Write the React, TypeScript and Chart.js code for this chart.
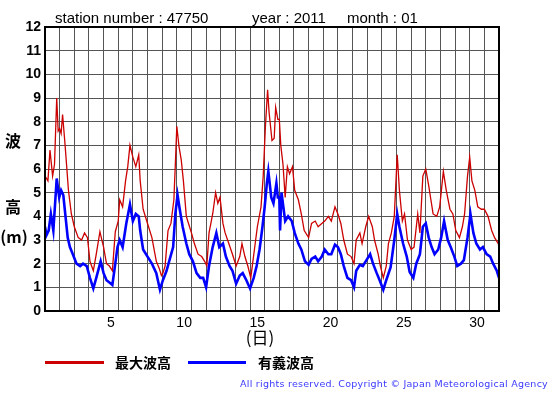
import React, { useEffect, useRef } from "react";
import { Chart, registerables } from "chart.js";

Chart.register(...registerables);

// Elapsed-day positions (day 1 00:00 = 1) and values (m)
const maxTimes = [
  0.0, 0.2, 0.34, 0.52, 0.65, 0.8, 0.9, 1.0, 1.1, 1.2, 1.36, 1.47, 1.6, 1.8, 2.0, 2.27, 2.5, 2.7, 2.9, 3.07,
  3.3, 3.5, 3.75, 4.0, 4.2, 4.4, 4.6, 4.8, 5.0, 5.1, 5.3, 5.5, 5.65, 5.8, 6.0, 6.2, 6.4, 6.5, 6.7, 7.0,
  7.3, 7.6, 7.8, 7.95, 8.05, 8.2, 8.4, 8.6, 8.8, 8.9, 9.0, 9.15, 9.3, 9.45, 9.65, 9.8, 10.0, 10.2, 10.45, 10.7,
  10.9, 11.05, 11.2, 11.45, 11.65, 11.8, 11.95, 12.15, 12.3, 12.55, 12.8, 13.05, 13.3, 13.45, 13.65, 13.85, 14.05, 14.3, 14.5, 14.75,
  14.9, 15.05, 15.2, 15.3, 15.5, 15.65, 15.75, 15.9, 16.0, 16.1, 16.25, 16.4, 16.55, 16.7, 16.9, 17.05, 17.3, 17.5, 17.7, 18.0,
  18.2, 18.45, 18.65, 18.9, 19.1, 19.35, 19.55, 19.8, 20.0, 20.2, 20.4, 20.65, 20.9, 21.1, 21.25, 21.5, 21.65, 21.9, 22.1, 22.35,
  22.5, 22.75, 22.9, 23.1, 23.3, 23.45, 23.65, 23.85, 24.05, 24.2, 24.4, 24.55, 24.75, 25.0, 25.2, 25.45, 25.6, 25.8, 26.0, 26.2,
  26.35, 26.5, 26.75, 26.95, 27.2, 27.4, 27.65, 27.85, 28.05, 28.3, 28.5, 28.65, 28.85, 29.0, 29.15, 29.35, 29.55, 29.8, 30.0, 30.25,
  30.5, 30.7, 30.95, 31.0,
].map((d) => d + 1);
const maxValues = [
  5.7, 5.5, 6.8, 5.7, 6.2, 9.0, 7.6, 7.7, 7.5, 8.3, 7.1, 6.2, 5.1, 4.1, 3.56, 3.1, 3.0, 3.3, 3.1, 2.1,
  1.7, 2.4, 3.35, 2.7, 2.0, 1.9, 1.7, 3.35, 3.8, 4.7, 4.4, 5.5, 6.1, 7.0, 6.5, 6.1, 6.6, 5.5, 4.3, 3.7,
  3.1, 2.1, 1.8, 1.5, 1.6, 1.9, 3.4, 3.7, 4.7, 6.2, 7.8, 6.95, 6.4, 5.5, 4.0, 3.7, 3.3, 2.85, 2.4, 2.3,
  2.1, 1.9, 3.3, 4.1, 5.0, 4.55, 4.8, 3.7, 3.3, 2.85, 2.4, 1.9, 2.3, 2.85, 2.3, 1.9, 1.4, 2.6, 3.56, 4.4,
  5.7, 7.8, 9.35, 8.4, 7.2, 7.3, 8.6, 8.1, 8.1, 7.0, 6.2, 4.8, 6.1, 5.8, 6.1, 5.1, 4.7, 4.1, 3.4, 3.1,
  3.7, 3.8, 3.56, 3.7, 3.8, 4.0, 3.8, 4.4, 4.1, 3.7, 3.0, 2.4, 2.3, 2.0, 3.0, 3.3, 2.85, 3.56, 4.0, 3.56,
  3.0, 2.4, 1.9, 1.4, 1.9, 2.85, 3.3, 4.0, 6.6, 5.1, 3.8, 4.1, 3.0, 2.6, 2.7, 4.1, 3.3, 5.7, 6.0, 5.3,
  4.7, 4.1, 4.0, 4.4, 5.9, 5.1, 4.3, 4.1, 3.4, 3.1, 3.56, 4.1, 5.7, 6.5, 5.5, 5.1, 4.4, 4.3, 4.3, 4.0,
  3.4, 3.1, 2.85, 2.7,
];

const sigTimes = [
  0.0, 0.1, 0.25, 0.4, 0.57, 0.8, 0.97, 1.1, 1.25, 1.4, 1.55, 1.7, 1.9, 2.15, 2.4, 2.6, 2.85, 3.07, 3.3, 3.5,
  3.8, 4.0, 4.2, 4.4, 4.6, 4.8, 4.95, 5.1, 5.3, 5.55, 5.8, 6.0, 6.2, 6.4, 6.5, 6.7, 7.0, 7.3, 7.6, 7.85,
  8.05, 8.3, 8.5, 8.75, 8.9, 9.05, 9.2, 9.4, 9.65, 9.85, 10.1, 10.35, 10.6, 10.8, 11.0, 11.2, 11.45, 11.7, 11.9, 12.15,
  12.35, 12.6, 12.8, 13.05, 13.3, 13.5, 13.75, 14.0, 14.25, 14.45, 14.65, 14.85, 15.0, 15.15, 15.25, 15.45, 15.6, 15.8, 15.9, 16.0,
  16.05, 16.15, 16.4, 16.6, 16.85, 17.05, 17.3, 17.5, 17.75, 18.0, 18.2, 18.45, 18.65, 18.9, 19.1, 19.35, 19.55, 19.8, 20.0, 20.2,
  20.4, 20.65, 20.9, 21.1, 21.25, 21.5, 21.7, 21.95, 22.2, 22.4, 22.65, 22.85, 23.1, 23.3, 23.6, 23.85, 24.05, 24.2, 24.45, 24.7,
  24.9, 25.15, 25.35, 25.6, 25.8, 26.0, 26.2, 26.4, 26.6, 26.85, 27.05, 27.25, 27.5, 27.7, 27.95, 28.15, 28.4, 28.6, 28.85, 29.05,
  29.25, 29.45, 29.7, 29.9, 30.15, 30.4, 30.6, 30.85, 31.0,
].map((d) => d + 1);
const sigValues = [
  3.56, 3.2, 3.4, 4.1, 3.4, 5.6, 4.8, 5.1, 4.9, 4.0, 3.1, 2.7, 2.4, 2.0, 1.9, 2.0, 1.9, 1.4, 0.95, 1.4,
  2.1, 1.6, 1.3, 1.2, 1.1, 2.0, 2.7, 3.0, 2.7, 3.7, 4.5, 3.8, 4.1, 4.0, 3.4, 2.6, 2.3, 2.0, 1.6, 0.9,
  1.3, 1.7, 2.15, 2.7, 4.1, 4.9, 4.3, 3.56, 2.85, 2.4, 2.1, 1.6, 1.4, 1.4, 1.0, 1.9, 2.7, 3.3, 2.7, 2.85,
  2.3, 1.9, 1.7, 1.15, 1.5, 1.6, 1.3, 0.95, 1.4, 1.9, 2.6, 3.56, 4.4, 5.4, 5.9, 4.8, 4.55, 5.4, 4.8, 4.8,
  3.4, 5.0, 3.8, 4.0, 3.8, 3.3, 2.85, 2.6, 2.1, 1.95, 2.2, 2.3, 2.1, 2.3, 2.6, 2.4, 2.4, 2.8, 2.7, 2.4,
  1.9, 1.4, 1.3, 1.0, 1.7, 1.95, 1.9, 2.15, 2.4, 2.0, 1.6, 1.3, 0.9, 1.3, 1.85, 3.0, 4.1, 3.56, 2.85, 2.3,
  1.65, 1.4, 2.0, 2.4, 3.56, 3.7, 3.1, 2.7, 2.4, 2.6, 3.1, 3.8, 3.0, 2.7, 2.3, 1.9, 2.0, 2.15, 3.1, 4.1,
  3.3, 2.85, 2.6, 2.7, 2.4, 2.3, 2.0, 1.7, 1.4,
];

const dayLabels = [5, 10, 15, 20, 25, 30];
const yTicks = [0, 1, 2, 3, 4, 5, 6, 7, 8, 9, 10, 11, 12];

const titleParts = ["station number : 47750", "year : 2011", "month : 01"];
const seriesNames = ["最大波高", "有義波高"];
const copyright = "All rights reserved. Copyright © Japan Meteorological Agency";

const SANS = '"Liberation Sans", Arial, sans-serif';
const CJK = '"Noto Sans CJK JP", sans-serif';

const decorPlugin = {
  id: "decor",
  afterDraw(chart: any) {
    const ctx = chart.ctx as CanvasRenderingContext2D;
    const a = chart.chartArea;
    ctx.save();
    // plot frame
    ctx.strokeStyle = "#000";
    ctx.lineWidth = 2;
    ctx.strokeRect(a.left, a.top, a.right - a.left, a.bottom - a.top);

    // title
    ctx.fillStyle = "#000";
    ctx.font = `15px ${SANS}`;
    ctx.textBaseline = "alphabetic";
    ctx.textAlign = "left";
    ctx.fillText(titleParts[0], 55, 23);
    ctx.fillText(titleParts[1], 252, 23);
    ctx.fillText(titleParts[2], 347, 23);

    // y axis title (vertical)
    ctx.textAlign = "center";
    ctx.textBaseline = "middle";
    ctx.font = `bold 16px ${CJK}`;
    ctx.fillText("波", 13, 141);
    ctx.fillText("高", 13, 207);
    ctx.fillText("(m)", 14, 237);

    // x axis title
    ctx.font = `17px ${CJK}`;
    ctx.fillText("(日)", 260, 338);

    // legend
    const ds = chart.data.datasets;
    const legendY = 362.5;
    const items = [
      { x0: 45, x1: 104, tx: 115 },
      { x0: 188, x1: 246, tx: 258 },
    ];
    items.forEach((it, i) => {
      ctx.strokeStyle = ds[i].borderColor;
      ctx.lineWidth = 3;
      ctx.beginPath();
      ctx.moveTo(it.x0, legendY);
      ctx.lineTo(it.x1, legendY);
      ctx.stroke();
      ctx.fillStyle = "#000";
      ctx.font = `bold 14px ${CJK}`;
      ctx.textAlign = "left";
      ctx.textBaseline = "middle";
      ctx.fillText(seriesNames[i], it.tx, legendY + 0.5);
    });

    // copyright
    ctx.font = `9.5px "DejaVu Sans", sans-serif`;
    ctx.fillStyle = "#3a3aff";
    ctx.textAlign = "left";
    ctx.textBaseline = "middle";
    const w = ctx.measureText(copyright).width;
    const target = 308;
    (ctx as any).letterSpacing = `${(target - w) / copyright.length}px`;
    ctx.fillText(copyright, 240, 385);
    ctx.restore();
  },
};

export default function App() {
  const ref = useRef<HTMLCanvasElement | null>(null);
  useEffect(() => {
    if (!ref.current) return;
    const chart = new Chart(ref.current, {
      type: "line",
      data: {
        datasets: [
          {
            label: seriesNames[0],
            data: maxTimes.map((t, i) => ({ x: t, y: maxValues[i] })),
            borderColor: "#cc0000",
            borderWidth: 1.3,
            pointRadius: 0,
            tension: 0,
            order: 1,
          },
          {
            label: seriesNames[1],
            data: sigTimes.map((t, i) => ({ x: t, y: sigValues[i] })),
            borderColor: "#0000ff",
            borderWidth: 2.6,
            pointRadius: 0,
            tension: 0,
            order: 0,
          },
        ],
      },
      options: {
        animation: false,
        responsive: false,
        events: [],
        layout: { padding: { top: 27, right: 56, left: 0, bottom: 0 } },
        plugins: { legend: { display: false }, tooltip: { enabled: false } },
        scales: {
          x: {
            type: "linear",
            min: 1,
            max: 32,
            afterBuildTicks: (s: any) => {
              const t: any[] = [];
              for (let d = 1; d <= 32; d++) t.push({ value: d });
              dayLabels.forEach((d) => t.push({ value: d + 0.5 }));
              s.ticks = t;
            },
            afterFit: (s: any) => {
              s.height = 84;
            },
            ticks: {
              autoSkip: false,
              maxRotation: 0,
              padding: 4,
              color: "#000",
              font: { family: SANS, size: 14 },
              callback: (v: any) => (Number.isInteger(v) ? "" : String(v - 0.5)),
            },
            grid: {
              drawTicks: false,
              color: (c: any) => (c.tick && Number.isInteger(c.tick.value) ? "#555" : "rgba(0,0,0,0)"),
              lineWidth: 1,
            },
            border: { display: false },
          },
          y: {
            min: 0,
            max: 12,
            afterBuildTicks: (s: any) => {
              s.ticks = yTicks.map((v) => ({ value: v }));
            },
            afterFit: (s: any) => {
              s.width = 45;
            },
            ticks: {
              padding: 4,
              color: "#000",
              font: { family: SANS, size: 14, weight: "bold" },
            },
            grid: { drawTicks: false, color: "#555", lineWidth: 1 },
            border: { display: false },
          },
        },
      },
      plugins: [decorPlugin],
    });
    return () => chart.destroy();
  }, []);
  return (
    <div style={{ position: "fixed", left: 0, top: 0, width: 555, height: 395, background: "#fff" }}>
      <canvas ref={ref} width={555} height={395} style={{ display: "block" }} />
    </div>
  );
}
